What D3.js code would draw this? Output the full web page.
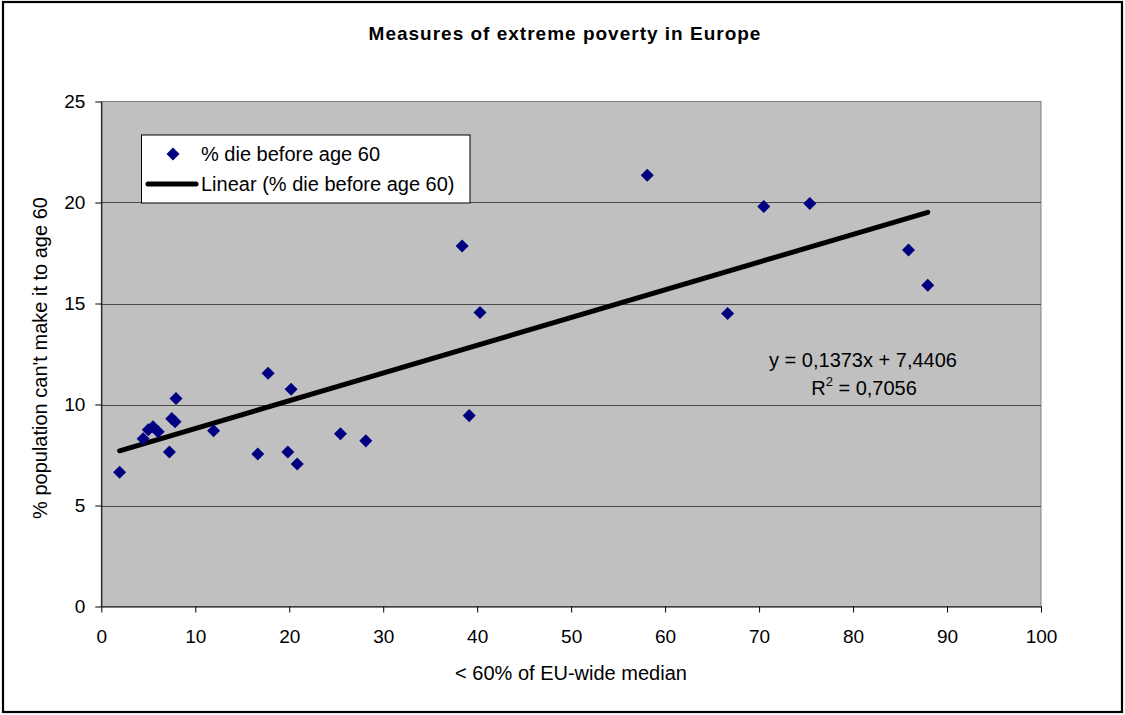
<!DOCTYPE html>
<html>
<head>
<meta charset="utf-8">
<script src="https://cdn.jsdelivr.net/npm/d3@7"></script>
<style>
  html, body { margin: 0; padding: 0; background: #fff; }
  svg { display: block; font-family: "Liberation Sans", Arial, sans-serif; }
</style>
</head>
<body>
<svg id="chart" width="1125" height="715"></svg>
<script>
// ---- data ----
const xValues = [1.95, 4.45, 5.0, 5.5, 6.05, 7.25, 7.5, 7.85, 7.95, 11.95, 16.65, 17.75, 19.85, 20.2, 20.85, 25.45, 28.15, 38.4, 39.15, 40.3, 58.1, 66.65, 70.5, 75.4, 85.9, 87.95];
const yValues = [6.65, 8.3, 8.75, 8.9, 8.65, 7.65, 9.3, 9.15, 10.3, 8.7, 7.55, 11.55, 7.65, 10.75, 7.05, 8.55, 8.2, 17.85, 9.45, 14.55, 21.35, 14.5, 19.8, 19.95, 17.65, 15.9];
const trendCoefficients = [0.1373, 7.4406]; // slope, intercept
const xTicks = [0, 10, 20, 30, 40, 50, 60, 70, 80, 90, 100];
const yTicks = [0, 5, 10, 15, 20, 25];
const titleText = "Measures of extreme poverty in Europe";
const xTitle = "< 60% of EU-wide median";
const yTitle = "% population can't make it to age 60";
const seriesName = "% die before age 60";
const trendName = "Linear (% die before age 60)";
const equationText = "y = 0,1373x + 7,4406";
const r2Text = "0,7056";

// ---- layout ----
const svg = d3.select("#chart");
const pLeft = 101.3, pRight = 1041, pTop = 101.5, pBottom = 606.5;

const x = d3.scaleLinear().domain([0, 100]).range([pLeft, pRight]);
const y = d3.scaleLinear().domain([0, 25]).range([pBottom, pTop]);

// outer border
svg.append("rect").attr("x", 3).attr("y", 2).attr("width", 1119).attr("height", 710)
  .attr("fill", "#fff").attr("stroke", "#000").attr("stroke-width", 2.2);

// plot area
svg.append("rect").attr("x", pLeft).attr("y", pTop).attr("width", pRight - pLeft).attr("height", pBottom - pTop)
  .attr("fill", "#C0C0C0").attr("stroke", "#808080").attr("stroke-width", 1);

// gridlines
svg.append("g").selectAll("line").data(yTicks.filter(d => d > 0 && d < 25)).join("line")
  .attr("x1", pLeft).attr("x2", pRight)
  .attr("y1", d => Math.round(y(d)) + 0.5).attr("y2", d => Math.round(y(d)) + 0.5)
  .attr("stroke", "#4a4a4a").attr("stroke-width", 1);

// axes
const xAxis = svg.append("g").attr("transform", `translate(0,${pBottom})`)
  .call(d3.axisBottom(x).tickValues(xTicks).tickSize(6).tickPadding(17).tickSizeOuter(0));
const yAxis = svg.append("g").attr("transform", `translate(${pLeft},0)`)
  .call(d3.axisLeft(y).tickValues(yTicks).tickSize(6).tickPadding(10).tickSizeOuter(0));
[xAxis, yAxis].forEach(g => {
  g.select(".domain").attr("stroke", "#000");
  g.selectAll(".tick line").attr("stroke", "#000");
  g.selectAll(".tick text").attr("font-size", 19).attr("fill", "#000")
    .attr("font-family", "'Liberation Sans', Arial, sans-serif");
});

// trend line
const xMin = d3.min(xValues), xMax = d3.max(xValues);
const trend = xv => trendCoefficients[0] * xv + trendCoefficients[1];
svg.append("line")
  .attr("x1", x(xMin)).attr("y1", y(trend(xMin)))
  .attr("x2", x(xMax)).attr("y2", y(trend(xMax)))
  .attr("stroke", "#000").attr("stroke-width", 5).attr("stroke-linecap", "round");

// points
const diamond = d3.symbol().type(d3.symbolSquare).size(85);
svg.append("g").selectAll("path").data(xValues.map((xv, i) => [xv, yValues[i]])).join("path")
  .attr("d", diamond)
  .attr("transform", d => `translate(${x(d[0])},${y(d[1])}) rotate(45)`)
  .attr("fill", "#000080");

// equation
svg.append("text").attr("x", 863).attr("y", 367).attr("text-anchor", "middle")
  .attr("font-size", 20).text(equationText);
const r2 = svg.append("text").attr("x", 864).attr("y", 395).attr("text-anchor", "middle").attr("font-size", 20);
r2.append("tspan").text("R");
r2.append("tspan").attr("font-size", 13).attr("dy", -9).text("2");
r2.append("tspan").attr("dy", 9).text(" = " + r2Text);

// legend
svg.append("rect").attr("x", 141.5).attr("y", 135).attr("width", 328.5).attr("height", 68)
  .attr("fill", "#fff").attr("stroke", "#000").attr("stroke-width", 1);
svg.append("path").attr("d", diamond).attr("transform", "translate(173,154) rotate(45)").attr("fill", "#000080");
svg.append("text").attr("x", 201).attr("y", 161).attr("font-size", 20).text(seriesName);
svg.append("line").attr("x1", 148).attr("x2", 196).attr("y1", 184).attr("y2", 184)
  .attr("stroke", "#000").attr("stroke-width", 5).attr("stroke-linecap", "round");
svg.append("text").attr("x", 201).attr("y", 191).attr("font-size", 20).text(trendName);

// title
svg.append("text").attr("x", 565).attr("y", 40).attr("text-anchor", "middle")
  .attr("font-size", 19).attr("font-weight", "bold").attr("letter-spacing", 1).text(titleText);

// axis titles
svg.append("text").attr("x", 571).attr("y", 680).attr("text-anchor", "middle")
  .attr("font-size", 20).text(xTitle);
svg.append("text").attr("transform", "translate(47,358) rotate(-90)").attr("text-anchor", "middle")
  .attr("font-size", 20).text(yTitle);
</script>
</body>
</html>
